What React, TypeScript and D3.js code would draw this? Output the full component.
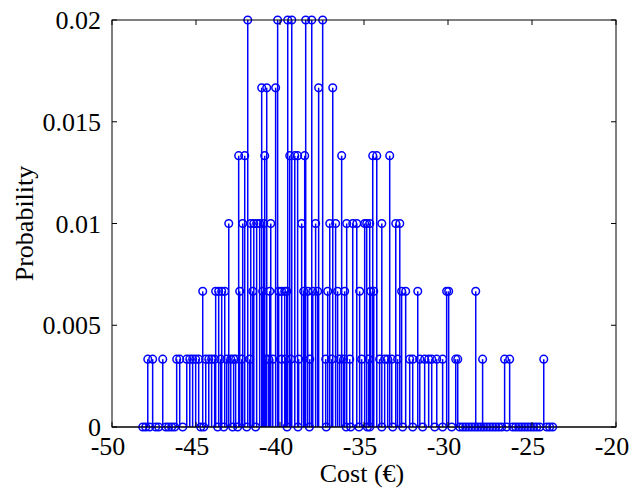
import { useEffect, useRef } from 'react';
import * as d3 from 'd3';

// cost values (€) of each histogram bin, grouped by probability level (count / 300)
const costP1 = [-47.87, -47.58, -46.98, -46.15, -45.97, -45.55, -45.37, -45.2, -45.02, -44.84,
  -44.42, -44.24, -44.07, -43.89, -43.53, -43.17, -42.93, -42.76, -42.64, -42.28, -41.8,
  -40.85, -40.67, -40.43, -39.9, -39.66, -39.36, -38.89, -38.23, -37.28, -36.92, -36.45,
  -36.21, -35.85, -35.14, -34.72, -34.07, -33.77, -33.59, -33.35, -33.0, -32.28, -32.1,
  -31.68, -31.39, -31.15, -30.97, -30.67, -30.32, -29.54, -29.42, -27.94, -26.63, -26.33, -24.3];
const costP2 = [-44.6, -43.83, -43.65, -43.47, -43.29, -42.4, -41.62, -41.03, -40.61, -40.08,
  -39.9, -39.72, -39.6, -38.59, -38.35, -38.05, -37.76, -37.16, -36.57, -36.15, -35.26,
  -34.6, -34.42, -32.76, -32.52, -31.8, -30.08, -29.96, -28.35];
const costP3 = [-43.05, -42.22, -41.74, -41.56, -41.39, -41.21, -40.97, -40.55, -38.71, -37.88,
  -37.04, -36.69, -36.03, -35.67, -35.43, -34.96, -34.84, -34.66, -33.94, -33.11, -32.87];
const costP4 = [-42.46, -42.1, -40.91, -39.42, -39.12, -38.95, -38.53, -36.33, -34.48, -34.24, -33.47];
const costP5 = [-41.09, -40.79, -40.26, -37.7, -36.86];
const costP6 = [-41.92, -40.14, -39.54, -39.3, -38.47, -38.11, -37.46];
const costZero = [-48.17, -47.99, -47.76, -47.4, -47.22, -46.8, -46.63, -46.45, -46.27, -45.79,
  -44.72, -44.54, -43.71, -43.35, -42.82, -42.52, -41.98, -41.45, -39.58, -38.93, -38.25,
  -37.25, -36.06, -35.79, -35.3, -34.8, -34.66, -33.94, -33.29, -32.7, -32.1, -31.51,
  -30.79, -30.32, -29.78, -29.3, -29.12, -28.95, -28.77, -28.59, -28.41, -28.23, -28.05,
  -27.88, -27.7, -27.52, -27.34, -27.16, -26.98, -26.8, -26.51, -26.15, -25.97, -25.79,
  -25.62, -25.44, -25.26, -25.08, -24.9, -24.72, -24.54, -24.12, -23.95, -23.77];

const xTicks = [-50, -45, -40, -35, -30, -25, -20];
const yTicks = [0, 0.005, 0.01, 0.015, 0.02];

const width = 630;
const height = 491;
const margin = { left: 112, right: 14, top: 20, bottom: 64 };
const font = '"Liberation Serif", "Times New Roman", serif';
const fontSize = 26;
const blue = '#0000ff';

export default function App() {
  const svgRef = useRef(null);

  useEffect(() => {
    const svg = d3.select(svgRef.current);
    svg.selectAll('*').remove();

    const x = d3.scaleLinear().domain([-50, -20]).range([margin.left, width - margin.right]);
    const y = d3.scaleLinear().domain([0, 0.02]).range([height - margin.bottom, margin.top]);

    const stems = [
      ...costZero.map(c => ({ c, p: 0 })),
      ...costP1.map(c => ({ c, p: 1 / 300 })),
      ...costP2.map(c => ({ c, p: 2 / 300 })),
      ...costP3.map(c => ({ c, p: 3 / 300 })),
      ...costP4.map(c => ({ c, p: 4 / 300 })),
      ...costP5.map(c => ({ c, p: 5 / 300 })),
      ...costP6.map(c => ({ c, p: 6 / 300 })),
    ];

    const x0 = x.range()[0], x1 = x.range()[1];
    const y0 = y.range()[0], y1 = y.range()[1];

    // stems
    svg.append('g')
      .selectAll('line')
      .data(stems)
      .join('line')
      .attr('x1', d => x(d.c)).attr('x2', d => x(d.c))
      .attr('y1', y(0)).attr('y2', d => y(d.p))
      .attr('stroke', blue).attr('stroke-width', 1.5);

    // baseline
    svg.append('line')
      .attr('x1', x0).attr('x2', x1).attr('y1', y(0)).attr('y2', y(0))
      .attr('stroke', '#000').attr('stroke-width', 1);

    // markers
    svg.append('g')
      .selectAll('circle')
      .data(stems)
      .join('circle')
      .attr('cx', d => x(d.c)).attr('cy', d => y(d.p))
      .attr('r', 3.8)
      .attr('fill', 'none').attr('stroke', blue).attr('stroke-width', 1.5);

    // box
    svg.append('rect')
      .attr('x', x0).attr('y', y1).attr('width', x1 - x0).attr('height', y0 - y1)
      .attr('fill', 'none').attr('stroke', '#000').attr('stroke-width', 1);

    const tickLen = 5;
    const ticks = svg.append('g').attr('stroke', '#000').attr('stroke-width', 1);
    xTicks.forEach(t => {
      ticks.append('line').attr('x1', x(t)).attr('x2', x(t)).attr('y1', y0).attr('y2', y0 - tickLen);
      ticks.append('line').attr('x1', x(t)).attr('x2', x(t)).attr('y1', y1).attr('y2', y1 + tickLen);
    });
    yTicks.forEach(t => {
      ticks.append('line').attr('x1', x0).attr('x2', x0 + tickLen).attr('y1', y(t)).attr('y2', y(t));
      ticks.append('line').attr('x1', x1).attr('x2', x1 - tickLen).attr('y1', y(t)).attr('y2', y(t));
    });

    svg.append('g')
      .selectAll('text')
      .data(xTicks)
      .join('text')
      .attr('x', t => x(t) - 4).attr('y', y0 + 28)
      .attr('text-anchor', 'middle')
      .attr('font-family', font).attr('font-size', fontSize)
      .text(t => String(t));

    svg.append('g')
      .selectAll('text')
      .data(yTicks)
      .join('text')
      .attr('x', x0 - 11).attr('y', t => y(t) + 9)
      .attr('text-anchor', 'end')
      .attr('font-family', font).attr('font-size', fontSize)
      .text(t => String(t));

    svg.append('text')
      .attr('x', (x0 + x1) / 2 - 2).attr('y', 482)
      .attr('text-anchor', 'middle')
      .attr('font-family', font).attr('font-size', fontSize)
      .text('Cost (€)');

    svg.append('text')
      .attr('transform', `translate(33,${(y0 + y1) / 2}) rotate(-90)`)
      .attr('text-anchor', 'middle')
      .attr('font-family', font).attr('font-size', fontSize)
      .text('Probability');
  }, []);

  return (
    <svg ref={svgRef} width={width} height={height}
      style={{ position: 'absolute', left: 0, top: 0, background: '#fff' }} />
  );
}
